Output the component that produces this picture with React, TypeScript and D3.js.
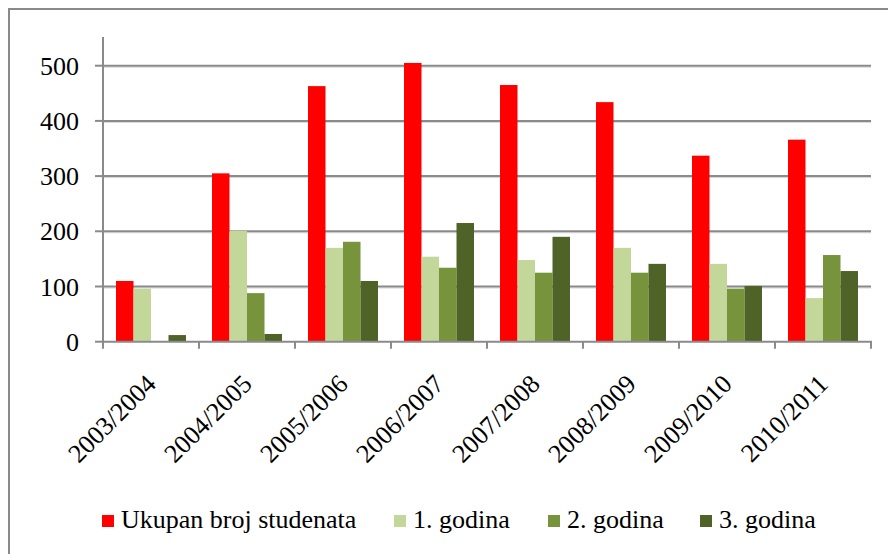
import React from "react";
import * as d3 from "d3";

const categories = ["2003/2004", "2004/2005", "2005/2006", "2006/2007", "2007/2008", "2008/2009", "2009/2010", "2010/2011"];
const seriesNames = ["Ukupan broj studenata", "1. godina", "2. godina", "3. godina"];
const seriesColors = ["#FF0000", "#C4D79B", "#77933C", "#4F6228"];
const ukupno = [110, 305, 463, 505, 465, 434, 337, 366];
const godina1 = [96, 201, 170, 154, 148, 170, 141, 79];
const godina2 = [0, 88, 181, 134, 125, 125, 96, 157];
const godina3 = [12, 14, 110, 215, 190, 141, 101, 128];
const yTicks = [0, 100, 200, 300, 400, 500];

const seriesValues = [ukupno, godina1, godina2, godina3];

const W = 888;
const H = 554;
const FONT =
  '"Liberation Serif", "Times New Roman", Times, "Nimbus Roman", "Nimbus Roman No9 L", FreeSerif, "Noto Serif", "DejaVu Serif", Tinos, serif';
const GRID = "#8a8a8a";
const textStyle = { fontFamily: FONT };

export default function App() {
  const x = d3.scaleBand<string>().domain(categories).range([103, 871]).padding(0);
  const inner = d3.scaleBand<string>().domain(seriesNames).range([13, 83]).padding(0);
  const y = d3.scaleLinear().domain([0, 500]).range([341.7, 65.7]);
  const yTop = y.invert(37);

  const legendX = [102, 394, 548, 700];

  return (
    <svg width={W} height={H} style={{ position: "absolute", left: 0, top: 0, background: "#fff" }}>
      <rect x={0} y={0} width={W} height={H} fill="#fff" />
      <rect x={9} y={9} width={W + 20} height={H + 20} fill="none" stroke={GRID} strokeWidth={2} />
      {yTicks.filter((t) => t > 0).map((t) => (
        <g key={t}>
          <line x1={103} x2={871} y1={y(t) + 1.5} y2={y(t) + 1.5} stroke="#d6d6d6" strokeWidth={1} />
          <line x1={103} x2={871} y1={y(t)} y2={y(t)} stroke={GRID} strokeWidth={2} />
        </g>
      ))}
      {categories.map((c, i) => (
        <g key={c} transform={`translate(${x(c)},0)`}>
          {seriesNames.map((s, j) => {
            const v = seriesValues[j][i];
            return (
              <rect key={s} x={inner(s)} width={inner.bandwidth()} y={y(v)} height={y(0) - y(v)} fill={seriesColors[j]} />
            );
          })}
        </g>
      ))}
      <line x1={103} x2={103} y1={y(yTop)} y2={y(0)} stroke={GRID} strokeWidth={2} />
      {yTicks.map((t) => (
        <g key={t}>
          <line x1={95} x2={103} y1={y(t)} y2={y(t)} stroke={GRID} strokeWidth={2} />
          <text x={79} y={y(t)} dy="0.35em" textAnchor="end" fontSize={26} fill="#000" style={textStyle}>
            {t}
          </text>
        </g>
      ))}
      <line x1={102} x2={872} y1={y(0)} y2={y(0)} stroke={GRID} strokeWidth={2} />
      {[...categories.map((c) => x(c) as number), 871].map((px, i) => (
        <line key={i} x1={px} x2={px} y1={y(0)} y2={y(0) + 7} stroke={GRID} strokeWidth={2} />
      ))}
      {categories.map((c) => {
        const cx = (x(c) as number) + x.bandwidth() / 2;
        return (
          <text key={c} transform={`translate(${cx},379) rotate(-45)`} dy="0.35em" textAnchor="end" fontSize={26} fill="#000" style={textStyle}>
            {c}
          </text>
        );
      })}
      {seriesNames.map((s, j) => (
        <g key={s}>
          <rect x={legendX[j]} y={515} width={12} height={12} fill={seriesColors[j]} />
          <text x={legendX[j] + 19} y={528} fontSize={26} fill="#000" style={textStyle}>
            {s}
          </text>
        </g>
      ))}
    </svg>
  );
}
